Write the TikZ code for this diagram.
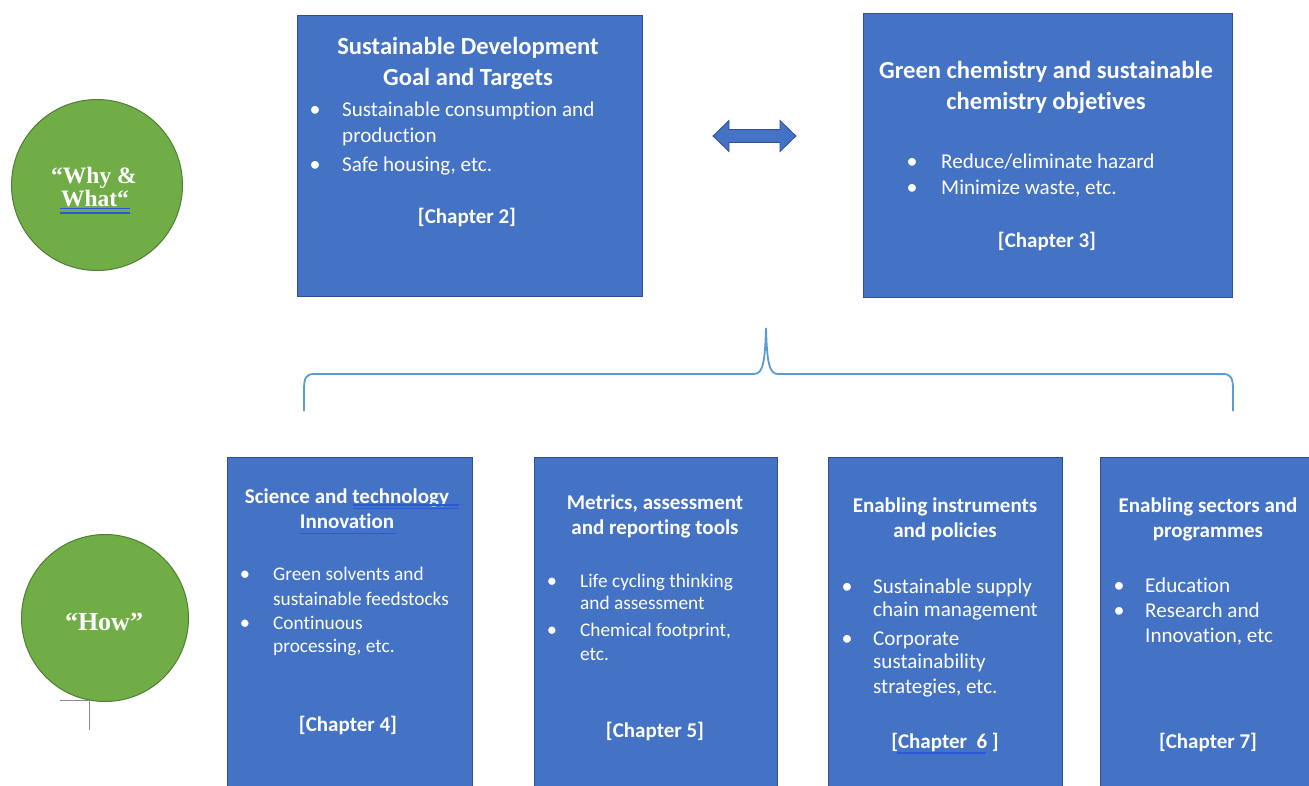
\documentclass[tikz,border=0pt]{standalone}
\usepackage{fontspec}
\setmainfont[Ligatures={NoCommon}]{Carlito}
\newfontfamily\circfont{Liberation Serif}
\definecolor{boxblue}{HTML}{4472C4}
\definecolor{boxline}{HTML}{2F528F}
\definecolor{circgreen}{HTML}{70AD47}
\definecolor{circline}{HTML}{507E32}
\definecolor{bracecol}{HTML}{5B9BD5}
\definecolor{spell}{RGB}{40,90,215}
\definecolor{tickgray}{HTML}{8C8C8C}
\tikzset{
  bx/.style={draw=boxline, fill=boxblue, line width=1pt, rectangle, inner sep=0, outer sep=0, anchor=north west},
  circ/.style={draw=circline, fill=circgreen, line width=1pt, circle, inner sep=0, outer sep=0},
  ctxt/.style={text=white, inner sep=0, anchor=base, font=\circfont\bfseries\fontsize{23.5}{27}\selectfont},
  ctxtB/.style={text=white, inner sep=0, anchor=base, font=\circfont\bfseries\fontsize{26}{30}\selectfont},
  ttlL/.style={text=white, inner sep=0, anchor=base, font=\bfseries\fontsize{24.6}{29}\selectfont},
  ttlS/.style={text=white, inner sep=0, anchor=base, font=\bfseries\fontsize{21}{25}\selectfont},
  chp/.style={text=white, inner sep=0, anchor=base, font=\bfseries\fontsize{21}{25}\selectfont},
  bodyL/.style={text=white, inner sep=0, anchor=base west, font=\fontsize{21.1}{25}\selectfont},
  bodyS/.style={text=white, inner sep=0, anchor=base west, font=\fontsize{19.3}{23}\selectfont},
  dotL/.style={text=white, inner sep=0, anchor=base, font=\fontsize{22}{25}\selectfont},
  dotS/.style={text=white, inner sep=0, anchor=base, font=\fontsize{20.5}{23}\selectfont},
  ul/.style={draw=spell, line width=1.3pt},
}
\begin{document}
\begin{tikzpicture}[x=1pt,y=-1pt]
\useasboundingbox (0,0) rectangle (1309,785);
\clip (0,0) rectangle (1309,785);
\fill[white] (0,0) rectangle (1309,785);

% circles
\node[circ, minimum size=171pt] (c1) at (97,185) {};
\node[ctxt] (c1a) at (94,183) {“Why \&};
\node[ctxt] (c1b) at (95,206) {What“};
\draw[ul] (60,208.5) -- (130,208.5);
\draw[ul] (60,213) -- (130,213);
\node[circ, minimum size=167pt] (c2) at (105,618) {};
\node[ctxtB] (c2a) at (104,630) {“How”};
\draw[tickgray, line width=0.8pt] (60,700) -- (89,700) -- (89,730);

% top boxes
\node[bx, minimum width=345pt, minimum height=281pt] (b1) at (297,15) {};
\node[ttlL] (t1a) at (468,54) {Sustainable Development};
\node[ttlL] (t1b) at (468,85) {Goal and Targets};
\node[dotL] (d1a) at (315,116) {•};
\node[bodyL] (l1a) at (342,116) {Sustainable consumption and};
\node[bodyL] (l1b) at (342,142) {production};
\node[dotL] (d1b) at (315,171) {•};
\node[bodyL] (l1c) at (342,171) {Safe housing, etc.};
\node[chp] (ch2) at (467,223) {[Chapter 2]};

\node[bx, minimum width=369pt, minimum height=284pt] (b2) at (863,13) {};
\node[ttlL] (t2a) at (1046,78) {Green chemistry and sustainable};
\node[ttlL] (t2b) at (1046,109) {chemistry objetives};
\node[dotL] (d2a) at (912,168) {•};
\node[bodyL] (l2a) at (941,168) {Reduce/eliminate hazard};
\node[dotL] (d2b) at (912,194) {•};
\node[bodyL] (l2b) at (941,194) {Minimize waste, etc.};
\node[chp] (ch3) at (1047,247) {[Chapter 3]};

% double arrow
\fill[boxblue, draw=boxline, line width=0.8pt] (713,136) -- (729,120.5) -- (729,129.5) -- (780,129.5) -- (780,120.5) -- (796,136) -- (780,151.5) -- (780,142.5) -- (729,142.5) -- (729,151.5) -- cycle;

% brace
\draw[bracecol, line width=1.8pt] (304,411) -- (304,390) .. controls (304,378) and (306,374) .. (314,374) -- (754,374) .. controls (763,374) and (765,362) .. (766,328) .. controls (767,362) and (769,374) .. (778,374) -- (1223,374) .. controls (1231,374) and (1233,378) .. (1233,390) -- (1233,411);

% bottom boxes
\node[bx, minimum width=245pt, minimum height=340pt] (b3) at (227,457) {};
\node[ttlS] (t3a) at (347,503) {Science and technology};
\node[ttlS] (t3b) at (347,528) {Innovation};
\draw[ul] (353,505) -- (459,505);
\draw[ul] (353,508.5) -- (459,508.5);
\draw[ul] (300,533.5) -- (396,533.5);
\node[dotS] (d3a) at (245,580) {•};
\node[bodyS] (l3a) at (273,580) {Green solvents and};
\node[bodyS] (l3b) at (273,605) {sustainable feedstocks};
\node[dotS] (d3b) at (245,629) {•};
\node[bodyS] (l3c) at (273,629) {Continuous};
\node[bodyS] (l3d) at (273,652) {processing, etc.};
\node[chp] (ch4) at (348,731) {[Chapter 4]};

\node[bx, minimum width=243pt, minimum height=340pt] (b4) at (534,457) {};
\node[ttlS] (t4a) at (655,509) {Metrics, assessment};
\node[ttlS] (t4b) at (655,534) {and reporting tools};
\node[dotS] (d4a) at (552,587) {•};
\node[bodyS] (l4a) at (580,587) {Life cycling thinking};
\node[bodyS] (l4b) at (580,609) {and assessment};
\node[dotS] (d4b) at (552,636) {•};
\node[bodyS] (l4c) at (580,636) {Chemical footprint,};
\node[bodyS] (l4d) at (580,660) {etc.};
\node[chp] (ch5) at (655,737) {[Chapter 5]};

\node[bx, minimum width=234pt, minimum height=340pt] (b5) at (828,457) {};
\node[ttlS] (t5a) at (945,512) {Enabling instruments};
\node[ttlS] (t5b) at (945,537) {and policies};
\node[dotL] (d5a) at (847,593) {•};
\node[bodyL] (l5a) at (873,593) {Sustainable supply};
\node[bodyL] (l5b) at (873,616) {chain management};
\node[dotL] (d5b) at (847,645) {•};
\node[bodyL] (l5c) at (873,645) {Corporate};
\node[bodyL] (l5d) at (873,668) {sustainability};
\node[bodyL] (l5e) at (873,693) {strategies, etc.};
\node[chp] (ch6) at (945,748) {[Chapter\ \ 6 ]};
\draw[ul] (897,753) -- (986,753);

\node[bx, minimum width=220pt, minimum height=340pt] (b6) at (1100,457) {};
\node[ttlS] (t6a) at (1208,512) {Enabling sectors and};
\node[ttlS] (t6b) at (1208,537) {programmes};
\node[dotL] (d6a) at (1119,592) {•};
\node[bodyL] (l6a) at (1145,592) {Education};
\node[dotL] (d6b) at (1119,617) {•};
\node[bodyL] (l6b) at (1145,617) {Research and};
\node[bodyL] (l6c) at (1145,642) {Innovation, etc};
\node[chp] (ch7) at (1208,748) {[Chapter 7]};
\end{tikzpicture}
\end{document}
